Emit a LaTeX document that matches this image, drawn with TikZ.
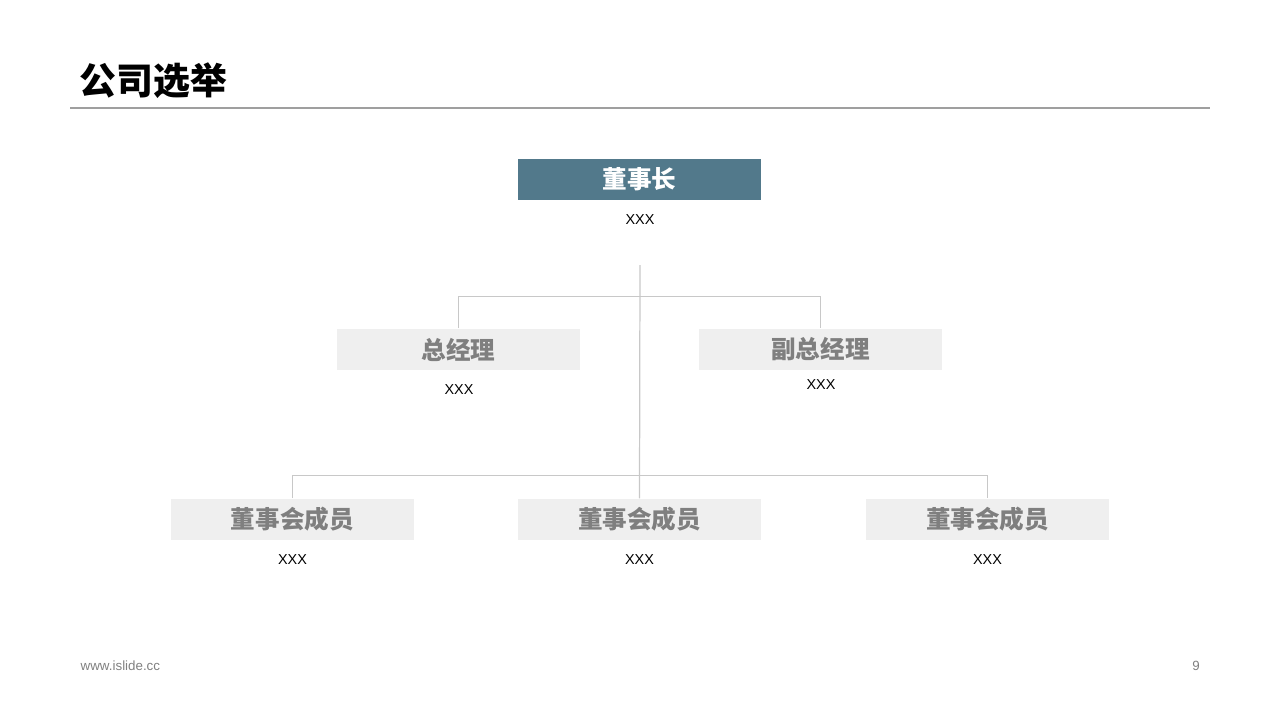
\documentclass[tikz,border=0pt]{standalone}
\usepackage{fontspec}
\setmainfont{Liberation Sans}
\newfontfamily\cjk{Noto Sans CJK SC}
\usepackage{tikz}

\definecolor{chairblue}{HTML}{52798B}
\definecolor{boxgray}{HTML}{EFEFEF}
\definecolor{txtgray}{HTML}{7F7F7F}
\definecolor{linegray}{HTML}{C8C8C8}

\tikzset{
  postbox/.style={minimum width=2.43cm, minimum height=0.41cm, inner sep=0pt,
    fill=boxgray, text=txtgray, font=\cjk\bfseries\fontsize{7}{8}\selectfont},
  holder/.style={font=\fontsize{4.1}{5}\selectfont, text=black, inner sep=0pt},
  link/.style={draw=linegray, line width=0.35pt}
}

\begin{document}
\begin{tikzpicture}[x=0.1mm,y=-0.1mm]
\useasboundingbox (0,0) rectangle (1280,720);
\node[anchor=west, inner sep=0pt, font=\cjk\bfseries\fontsize{10.5}{12}\selectfont] (title) at (79,81) {公司选举};
\draw[color=gray!75, line width=0.3pt] (70,108) -- (1210,108);

\node[postbox, fill=chairblue, text=white] (chair) at (639.5,179.5) {\raisebox{-0.6pt}{董事长}};
\node[holder] (chairx) at (640,220) {XXX};
\coordinate (trunk) at (640,265);

\node[postbox] (gm) at (458.5,349.5) {\raisebox{-0.6pt}{总经理}};
\node[holder] (gmx) at (459,390) {XXX};
\node[postbox] (vgm) at (820.5,349.5) {\raisebox{-0.6pt}{副总经理}};
\node[holder] (vgmx) at (821,385) {XXX};

\foreach \i/\x in {1/292.5, 2/639.5, 3/987.5} {
  \node[postbox] (m\i) at (\x,519.5) {\raisebox{-0.6pt}{董事会成员}};
  \node[holder] (m\i x) at (\x,560) {XXX};
}

\draw[link] (trunk) -- (m2.north);
\draw[link] (gm.north) -- ++(0,-32) -| (vgm.north);
\draw[link] (m1.north) -- ++(0,-23) -| (m3.north);

\node[anchor=west, inner sep=0pt, text=gray, font=\fontsize{3.8}{5}\selectfont] (site) at (80,666) {www.islide.cc};
\node[inner sep=0pt, text=gray, font=\fontsize{3.8}{5}\selectfont] (page) at (1196,666) {9};
\end{tikzpicture}
\end{document}
